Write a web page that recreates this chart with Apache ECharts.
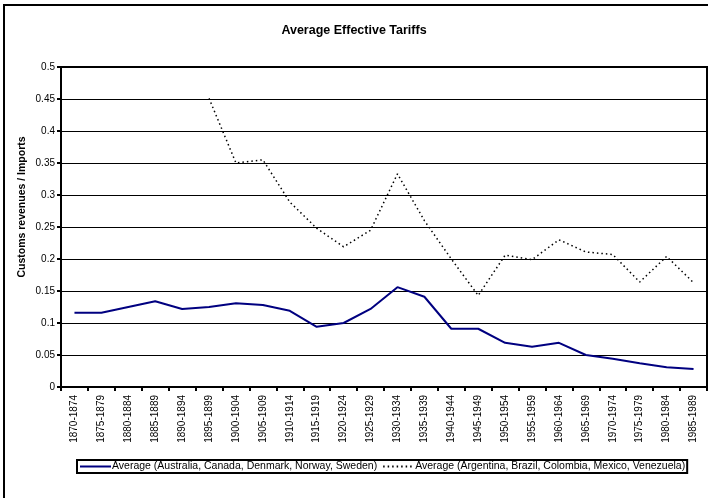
<!DOCTYPE html>
<html><head><meta charset="utf-8">
<script src="https://cdn.jsdelivr.net/npm/echarts@6/dist/echarts.min.js"></script>
<style>html,body{margin:0;padding:0;background:#fff}#c{width:708px;height:498px}</style>
</head><body><div id="c"></div>
<script>
const categories = ["1870-1874","1875-1879","1880-1884","1885-1889","1890-1894","1895-1899","1900-1904","1905-1909","1910-1914","1915-1919","1920-1924","1925-1929","1930-1934","1935-1939","1940-1944","1945-1949","1950-1954","1955-1959","1960-1964","1965-1969","1970-1974","1975-1979","1980-1984","1985-1989"];
const seriesNames = ["Average (Australia, Canada, Denmark, Norway, Sweden)","Average (Argentina, Brazil, Colombia, Mexico, Venezuela)"];
const richAvg = [0.116,0.116,0.125,0.134,0.122,0.125,0.131,0.128,0.119,0.094,0.100,0.122,0.156,0.141,0.091,0.091,0.069,0.063,0.069,0.050,0.044,0.037,0.031,0.028];
const latinAvg = [null,null,null,null,null,0.451,0.350,0.355,0.289,0.248,0.219,0.245,0.333,0.260,0.200,0.143,0.206,0.199,0.230,0.211,0.207,0.164,0.204,0.163];
const yTicks = [0,0.05,0.1,0.15,0.2,0.25,0.3,0.35,0.4,0.45,0.5];

const font = 'Arial, "Liberation Sans", sans-serif';
const chart = echarts.init(document.getElementById('c'));
chart.setOption({
  animation:false,
  backgroundColor:'#fff',
  textStyle:{fontFamily:font},
  graphic:[{type:'rect',shape:{x:4,y:5,width:720,height:510},style:{fill:'none',stroke:'#000',lineWidth:2},z:100}],
  title:{text:'Average Effective Tariffs',left:'center',top:19,textStyle:{fontSize:12.5,fontWeight:'bold',color:'#000',fontFamily:font}},
  grid:{left:61,top:67,width:646,height:320,show:true,borderColor:'#000',borderWidth:2,backgroundColor:'transparent'},
  legend:{
    data:seriesNames,
    left:77,top:460,width:640,
    orient:'horizontal',
    itemWidth:31,itemHeight:10,itemGap:5,
    padding:[1,2,1,2],
    borderColor:'#000',borderWidth:2,
    itemStyle:{opacity:0,borderWidth:0},
    textStyle:{fontSize:10.5,color:'#000',fontFamily:font,padding:[0,0,0,-4]}
  },
  xAxis:{
    type:'category',data:categories,boundaryGap:true,
    axisLine:{lineStyle:{color:'#000',width:2}},
    axisTick:{show:true,inside:false,length:4,lineStyle:{color:'#000',width:2}},
    axisLabel:{rotate:90,fontSize:10,color:'#000',fontFamily:font,margin:8,interval:0},
    splitLine:{show:false}
  },
  yAxis:{
    type:'value',min:0,max:0.5,interval:0.05,
    name:'Customs revenues / Imports',nameLocation:'middle',nameGap:33,nameMoveOverlap:false,
    nameTextStyle:{fontSize:10.5,fontWeight:'bold',color:'#000',fontFamily:font,padding:[0,0,0,40]},
    axisLine:{show:true,lineStyle:{color:'#000',width:2}},
    axisTick:{show:true,length:4,lineStyle:{color:'#000',width:2}},
    axisLabel:{fontSize:10,color:'#000',fontFamily:font,margin:6,formatter:v=>String(+v.toFixed(2))},
    splitLine:{show:true,lineStyle:{color:'#000',width:1}}
  },
  series:[
    {name:seriesNames[0],type:'line',data:richAvg,symbol:'none',lineStyle:{color:'#000080',width:2},itemStyle:{color:'#000080'}},
    {name:seriesNames[1],type:'line',data:latinAvg,symbol:'none',connectNulls:false,lineStyle:{color:'#000',width:1.5,type:[1.5,3]},itemStyle:{color:'#000'}}
  ]
});
</script></body></html>
